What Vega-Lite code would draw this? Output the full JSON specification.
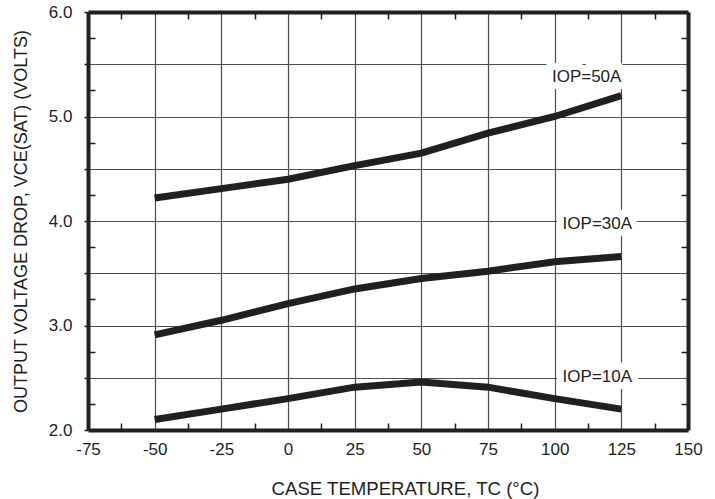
{
  "$schema": "https://vega.github.io/schema/vega-lite/v6.json",
  "width": 600,
  "height": 418,
  "autosize": {"type": "none"},
  "padding": {"left": 88, "top": 12, "right": 27, "bottom": 69},
  "background": "white",
  "config": {"view": {"stroke": null}, "font": "Liberation Sans"},
  "datasets": {
    "curves": [
      {"iop": "10A", "temp": -50, "vce": 2.1},
      {"iop": "10A", "temp": -25, "vce": 2.2},
      {"iop": "10A", "temp": 0, "vce": 2.3},
      {"iop": "10A", "temp": 25, "vce": 2.41},
      {"iop": "10A", "temp": 50, "vce": 2.46},
      {"iop": "10A", "temp": 75, "vce": 2.41},
      {"iop": "10A", "temp": 100, "vce": 2.3},
      {"iop": "10A", "temp": 125, "vce": 2.2},
      {"iop": "30A", "temp": -50, "vce": 2.91},
      {"iop": "30A", "temp": -25, "vce": 3.05},
      {"iop": "30A", "temp": 0, "vce": 3.21},
      {"iop": "30A", "temp": 25, "vce": 3.35},
      {"iop": "30A", "temp": 50, "vce": 3.45},
      {"iop": "30A", "temp": 75, "vce": 3.52},
      {"iop": "30A", "temp": 100, "vce": 3.61},
      {"iop": "30A", "temp": 125, "vce": 3.66},
      {"iop": "50A", "temp": -50, "vce": 4.22},
      {"iop": "50A", "temp": -25, "vce": 4.31},
      {"iop": "50A", "temp": 0, "vce": 4.4},
      {"iop": "50A", "temp": 25, "vce": 4.53},
      {"iop": "50A", "temp": 50, "vce": 4.65},
      {"iop": "50A", "temp": 75, "vce": 4.84},
      {"iop": "50A", "temp": 100, "vce": 5.0},
      {"iop": "50A", "temp": 125, "vce": 5.2}
    ],
    "labels": [
      {"label": "IOP=50A", "temp": 112, "vce": 5.38},
      {"label": "IOP=30A", "temp": 116, "vce": 3.97},
      {"label": "IOP=10A", "temp": 116, "vce": 2.51}
    ]
  },
  "layer": [
    {
      "data": {"name": "labels"},
      "mark": {"type": "text", "fontSize": 17, "stroke": "white", "strokeWidth": 14, "strokeJoin": "miter", "color": "white"},
      "encoding": {
        "x": {
          "field": "temp", "type": "quantitative",
          "scale": {"domain": [-75, 150], "nice": false, "zero": false},
          "axis": {
            "orient": "top",
            "values": [-75, -62.5, -50, -37.5, -25, -12.5, 0, 12.5, 25, 37.5, 50, 62.5, 75, 87.5, 100, 112.5, 125, 137.5, 150],
            "labels": false,
            "grid": false,
            "tickSize": {"condition": {"test": "datum.value % 25 === 0", "value": 0}, "value": -7},
            "tickColor": "#231f20",
            "tickWidth": 1.5,
            "domainColor": "#231f20",
            "domainWidth": 4,
            "title": null
          }
        },
        "y": {
          "field": "vce", "type": "quantitative",
          "scale": {"domain": [2, 6], "nice": false, "zero": false},
          "axis": {
            "orient": "right",
            "values": [2, 2.25, 2.5, 2.75, 3, 3.25, 3.5, 3.75, 4, 4.25, 4.5, 4.75, 5, 5.25, 5.5, 5.75, 6],
            "labels": false,
            "grid": false,
            "tickSize": {"condition": {"test": "datum.value % 0.5 === 0", "value": 0}, "value": -7},
            "tickColor": "#231f20",
            "tickWidth": 1.5,
            "domainColor": "#231f20",
            "domainWidth": 4,
            "title": null
          }
        },
        "text": {"field": "label"}
      }
    },
    {
      "data": {"name": "curves"},
      "mark": {"type": "line", "strokeWidth": 7, "color": "#231f20", "strokeCap": "butt"},
      "encoding": {
        "x": {
          "field": "temp", "type": "quantitative",
          "axis": {
            "orient": "bottom",
            "values": [-75, -62.5, -50, -37.5, -25, -12.5, 0, 12.5, 25, 37.5, 50, 62.5, 75, 87.5, 100, 112.5, 125, 137.5, 150],
            "labelExpr": "datum.value % 25 === 0 ? '' + datum.value : ''",
            "grid": true,
            "gridColor": "#4d4d4d",
            "gridWidth": 1.2,
            "gridOpacity": {"condition": {"test": "datum.value % 25 === 0", "value": 1}, "value": 0},
            "tickSize": {"condition": {"test": "datum.value % 25 === 0", "value": 0}, "value": -7},
            "tickColor": "#231f20",
            "tickWidth": 1.5,
            "domainColor": "#231f20",
            "domainWidth": 4,
            "labelFontSize": 17,
            "labelColor": "#231f20",
            "labelPadding": 11,
            "labelFlush": false,
            "labelOverlap": false,
            "title": "CASE TEMPERATURE, TC (°C)",
            "titleFontSize": 18.6,
            "titleFontWeight": "normal",
            "titleColor": "#231f20",
            "titlePadding": 22,
            "titleX": 317
          }
        },
        "y": {
          "field": "vce", "type": "quantitative",
          "axis": {
            "orient": "left",
            "values": [2, 2.25, 2.5, 2.75, 3, 3.25, 3.5, 3.75, 4, 4.25, 4.5, 4.75, 5, 5.25, 5.5, 5.75, 6],
            "labelExpr": "datum.value % 1 === 0 ? format(datum.value, '.1f') : ''",
            "grid": true,
            "gridColor": "#4d4d4d",
            "gridWidth": 1.2,
            "gridOpacity": {"condition": {"test": "datum.value % 0.5 === 0", "value": 1}, "value": 0},
            "tickSize": {"condition": {"test": "datum.value % 0.5 === 0", "value": 4}, "value": -7},
            "tickColor": "#231f20",
            "tickWidth": 1.5,
            "domainColor": "#231f20",
            "domainWidth": 4,
            "labelFontSize": 17,
            "labelColor": "#231f20",
            "labelPadding": 12,
            "labelFlush": false,
            "labelOverlap": false,
            "title": "OUTPUT VOLTAGE DROP, VCE(SAT) (VOLTS)",
            "titleFontSize": 18,
            "titleFontWeight": "normal",
            "titleColor": "#231f20",
            "titlePadding": 18
          }
        },
        "detail": {"field": "iop"}
      }
    },
    {
      "data": {"name": "labels"},
      "mark": {"type": "text", "fontSize": 17, "color": "#231f20"},
      "encoding": {
        "x": {"field": "temp", "type": "quantitative", "axis": null},
        "y": {"field": "vce", "type": "quantitative", "axis": null},
        "text": {"field": "label"}
      }
    }
  ],
  "resolve": {"axis": {"x": "independent", "y": "independent"}}
}
